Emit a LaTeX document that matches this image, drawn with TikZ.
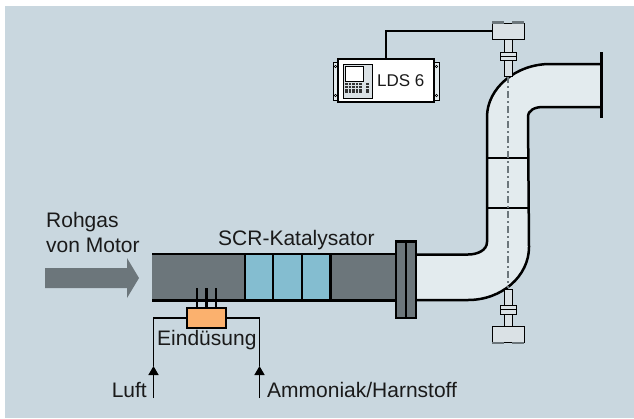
\documentclass[tikz,border=0pt]{standalone}
\usepackage{fontspec}
\setmainfont{Liberation Sans}
\usetikzlibrary{arrows.meta}
\definecolor{bgblue}{HTML}{C9D7DF}
\definecolor{pipegray}{HTML}{6C767B}
\definecolor{catblue}{HTML}{84BDD0}
\definecolor{pipelight}{HTML}{E3EBEE}
\definecolor{sensorgray}{HTML}{DAE1E5}
\definecolor{nozzleorange}{HTML}{FBB16E}
\definecolor{textdark}{HTML}{1A1A1A}
\tikzset{
    pipeline/.style={line width=2.5pt, black},
    wireline/.style={line width=1.5pt, black},
    sensorpart/.style={draw=black, line width=1pt, fill=sensorgray},
    label/.style={font=\fontsize{21}{24}\selectfont, text=textdark, inner sep=0pt},
    flowtip/.style={-{Triangle[length=9pt,width=10pt]}},
}
\begin{document}
\begin{tikzpicture}[x=1pt, y=-1pt]
    \useasboundingbox (0, 0) rectangle (634, 418);
    \fill[bgblue] (5, 6) rectangle (634, 418);

    % 来气箭头
    \fill[pipegray] (45, 268) -- (127, 268) -- (127, 258) -- (139, 278) -- (127, 298) -- (127, 288) -- (45, 288) -- cycle;
    \node[label, anchor=base west] (rohgas) at (46, 227) {Rohgas};
    \node[label, anchor=base west] (motor) at (46, 252) {von Motor};

    % 浅色弯管
    \fill[pipelight] (416, 254.5) -- (468, 254.5) .. controls (478, 254.5) and (487, 250) .. (487, 242)
        -- (487, 117) .. controls (487, 88) and (516, 64) .. (550, 64) -- (601, 64) -- (601, 107) -- (543, 107)
        .. controls (535, 107) and (528, 110) .. (528, 117) -- (529, 247)
        .. controls (529, 276) and (502, 300) .. (468, 300) -- (416, 300) -- cycle;
    \draw[pipeline] (416, 254.5) -- (468, 254.5) .. controls (478, 254.5) and (487, 250) .. (487, 242) -- (487, 117)
        .. controls (487, 88) and (516, 64) .. (550, 64) -- (601, 64);
    \draw[pipeline] (416, 300) -- (468, 300) .. controls (502, 300) and (529, 276) .. (529, 247) -- (528, 117)
        .. controls (528, 110) and (535, 107) .. (543, 107) -- (601, 107);
    \draw[pipeline] (487, 158) -- (528, 158);
    \draw[pipeline] (487, 208) -- (529, 208);
    \draw[line width=3pt] (601, 52) -- (601, 118);
    \draw[pipegray, line width=1.2pt, dash pattern=on 7pt off 3pt on 2pt off 3pt] (508, 76) -- (508, 288);

    % 催化段
    \fill[pipegray] (152, 254) rectangle (396, 300.5);
    \fill[catblue] (245, 254) rectangle (330.5, 300.5);
    \foreach \x in {245, 273, 302, 330.5} {
        \draw[pipeline] (\x, 254) -- (\x, 300.5);
    }
    \draw[pipeline] (152, 254) -- (396, 254);
    \draw[pipeline] (152, 300.5) -- (396, 300.5);
    \node[label, anchor=base west] (scr) at (218, 245) {SCR-Katalysator};

    % 法兰
    \draw[pipeline, fill=pipegray] (396, 241.5) rectangle (416, 318);
    \draw[pipeline] (406, 241.5) -- (406, 318);

    % 喷射
    \foreach \x in {197, 206.5, 216} {
        \draw[pipeline] (\x, 288) -- (\x, 308);
    }
    \node[draw=black, line width=1.8pt, fill=nozzleorange, minimum width=39pt, minimum height=20pt, inner sep=0pt] (nozzle) at (206.5, 318) {};
    \node[label, anchor=base west] (eind) at (157, 345) {Eindüsung};
    \coordinate (luftend) at (153.5, 398);
    \coordinate (lufttip) at (153.5, 366);
    \coordinate (ammoend) at (259.5, 398);
    \coordinate (ammotip) at (259.5, 366);
    \draw[wireline, flowtip] (luftend) -- (lufttip);
    \draw[wireline, flowtip] (ammoend) -- (ammotip);
    \draw[wireline] (lufttip) |- (nozzle.west);
    \draw[wireline] (ammotip) |- (nozzle.east);
    \node[label, anchor=base east] (luft) at (147, 397) {Luft};
    \node[label, anchor=base west] (ammo) at (267, 397) {Ammoniak/Harnstoff};

    % 上探头
    \draw[sensorpart] (504, 39) rectangle (512, 76);
    \draw[sensorpart] (500, 52) rectangle (516.5, 60);
    \draw[black, line width=0.6pt] (500, 56) -- (516.5, 56);
    \node[sensorpart, minimum width=32pt, minimum height=16pt, inner sep=0pt] (headtop) at (508, 31) {};
    \draw[pipegray, line width=2.5pt] (492, 22.5) -- (504, 22.5);
    \draw[pipegray, line width=2.5pt] (512, 22.5) -- (524, 22.5);

    % 下探头
    \draw[sensorpart] (504, 289) rectangle (512, 326);
    \draw[sensorpart] (500, 305) rectangle (516.5, 314);
    \draw[black, line width=0.6pt] (500, 309.5) -- (516.5, 309.5);
    \node[sensorpart, minimum width=32pt, minimum height=16pt, inner sep=0pt] (headbottom) at (508, 334) {};
    \draw[pipegray, line width=2.5pt] (492, 343) -- (504, 343);
    \draw[pipegray, line width=2.5pt] (512, 343) -- (524, 343);

    % 分析仪
    \foreach \x in {333, 434} {
        \draw[sensorpart, fill=pipelight] (\x, 62) rectangle +(5, 38);
        \draw[black, line width=0.5pt] (\x + 2.5, 66.5) circle (1.2pt);
        \draw[black, line width=0.5pt] (\x + 2.5, 95.5) circle (1.2pt);
    }
    \node[draw=black, line width=1.5pt, fill=white, minimum width=96pt, minimum height=43pt, inner sep=0pt] (lds) at (386, 80.5) {};
    \node[font=\fontsize{17}{20}\selectfont, text=textdark, inner sep=0pt, anchor=base west] (ldstext) at (377, 86.5) {LDS 6};
    \draw[black, line width=0.7pt, fill=sensorgray] (343, 64) rectangle (372, 98);
    \draw[black, line width=0.7pt, fill=white] (345, 66) rectangle (363.5, 81);
    \foreach \r in {0,...,3} {
        \foreach \c in {0,...,4} {
            \fill[black!80] (345 + \c*3.6, 83 + \r*2.8) rectangle +(2.6, 1.9);
        }
        \fill[black!80] (366, 83 + \r*2.8) rectangle +(3, 1.9);
    }
    \draw[wireline] (lds.north) |- (headtop.west);
\end{tikzpicture}
\end{document}
